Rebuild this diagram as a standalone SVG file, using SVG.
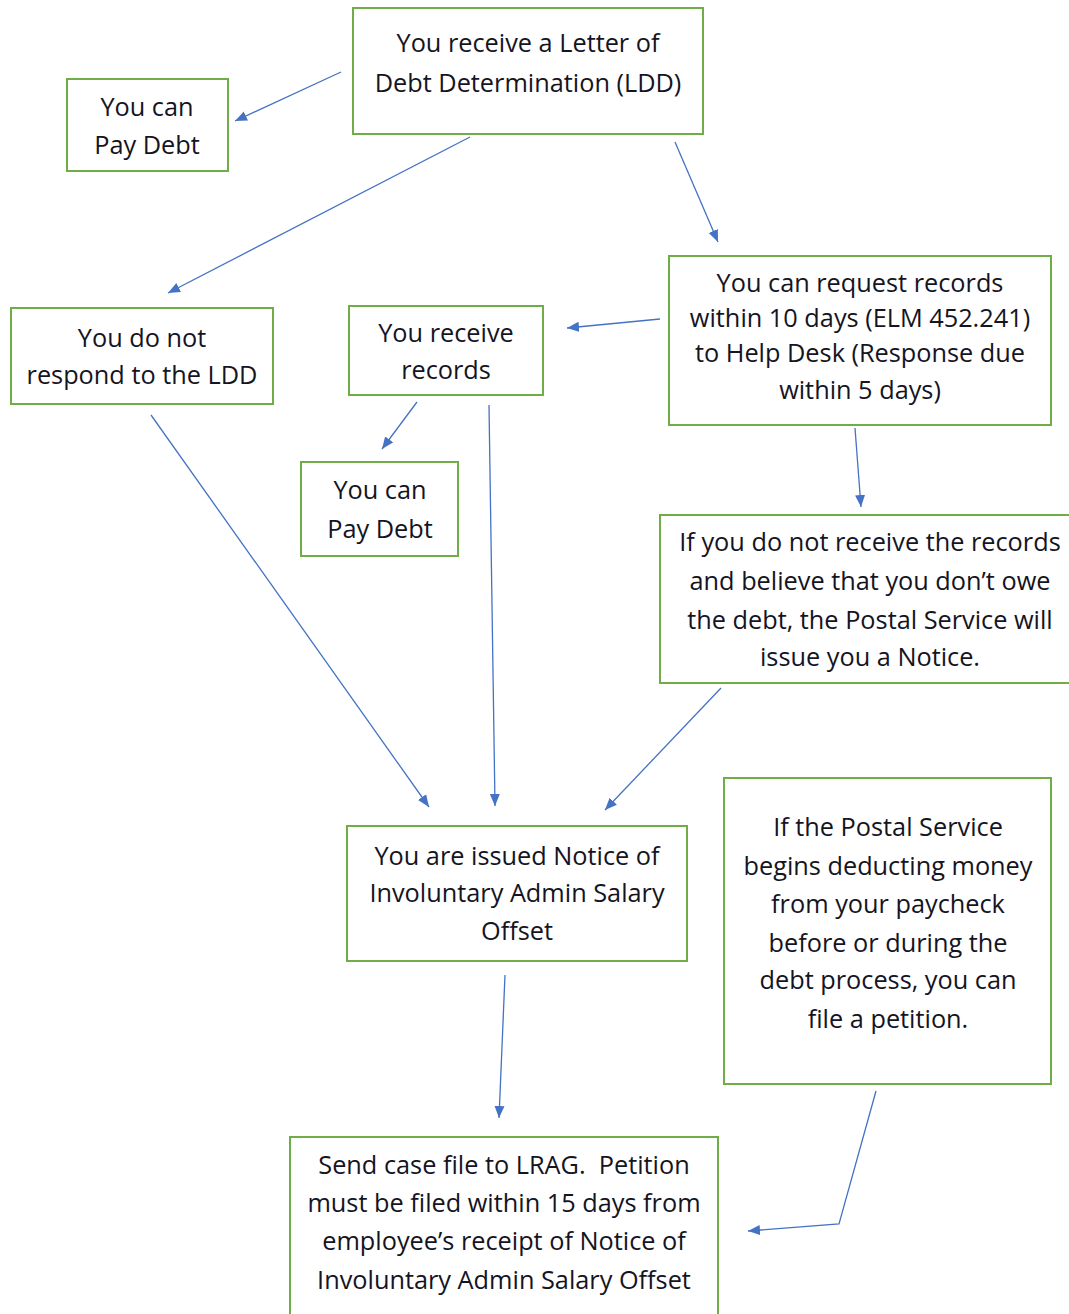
<svg xmlns="http://www.w3.org/2000/svg" width="1069" height="1314" viewBox="0 0 1069 1314">
<style>
  .box{fill:#fff;stroke:#70ad47;stroke-width:2}
  .t{font-family:"Open Sans","Liberation Sans",sans-serif;font-size:25.3px;fill:#141422;text-anchor:middle}
  .c{fill:none;stroke:#4472c4;stroke-width:1.3;marker-end:url(#ah)}
</style>
<defs>
  <marker id="ah" markerUnits="userSpaceOnUse" markerWidth="14" markerHeight="12" refX="12" refY="5.5" orient="auto">
    <path d="M0,0.5 L12,5.5 L0,10.5 z" fill="#4472c4"/>
  </marker>
</defs>
<rect width="1069" height="1314" fill="#fff"/>
<g id="n1"><rect class="box" x="353" y="8" width="350" height="126"/>
  <text class="t" x="528" y="52">You receive a Letter of</text>
  <text class="t" x="528" y="92">Debt Determination (LDD)</text></g>
<g id="n2"><rect class="box" x="67" y="79" width="161" height="92"/>
  <text class="t" x="147" y="116">You can</text>
  <text class="t" x="147" y="154">Pay Debt</text></g>
<g id="n3"><rect class="box" x="11" y="308" width="262" height="96"/>
  <text class="t" x="142" y="347">You do not</text>
  <text class="t" x="142" y="384">respond to the LDD</text></g>
<g id="n4"><rect class="box" x="349" y="306" width="194" height="89"/>
  <text class="t" x="446" y="342">You receive</text>
  <text class="t" x="446" y="379">records</text></g>
<g id="n5"><rect class="box" x="669" y="256" width="382" height="169"/>
  <text class="t" x="860" y="292">You can request records</text>
  <text class="t" x="860" y="327">within 10 days (ELM 452.241)</text>
  <text class="t" x="860" y="362">to Help Desk (Response due</text>
  <text class="t" x="860" y="399">within 5 days)</text></g>
<g id="n6"><rect class="box" x="301" y="462" width="157" height="94"/>
  <text class="t" x="380" y="499">You can</text>
  <text class="t" x="380" y="538">Pay Debt</text></g>
<g id="n7"><rect class="box" x="660" y="515" width="420" height="168"/>
  <text class="t" x="870" y="551">If you do not receive the records</text>
  <text class="t" x="870" y="590">and believe that you don’t owe</text>
  <text class="t" x="870" y="629">the debt, the Postal Service will</text>
  <text class="t" x="870" y="666">issue you a Notice.</text></g>
<g id="n8"><rect class="box" x="347" y="826" width="340" height="135"/>
  <text class="t" x="517" y="865">You are issued Notice of</text>
  <text class="t" x="517" y="902">Involuntary Admin Salary</text>
  <text class="t" x="517" y="940">Offset</text></g>
<g id="n9"><rect class="box" x="724" y="778" width="327" height="306"/>
  <text class="t" x="888" y="836">If the Postal Service</text>
  <text class="t" x="888" y="875">begins deducting money</text>
  <text class="t" x="888" y="913">from your paycheck</text>
  <text class="t" x="888" y="952">before or during the</text>
  <text class="t" x="888" y="989">debt process, you can</text>
  <text class="t" x="888" y="1028">file a petition.</text></g>
<g id="n10"><rect class="box" x="290" y="1137" width="428" height="190"/>
  <text class="t" x="504" y="1174" xml:space="preserve">Send case file to LRAG.  Petition</text>
  <text class="t" x="504" y="1212">must be filed within 15 days from</text>
  <text class="t" x="504" y="1250">employee’s receipt of Notice of</text>
  <text class="t" x="504" y="1289">Involuntary Admin Salary Offset</text></g>
<g id="connectors">
  <line class="c" x1="341" y1="72" x2="235" y2="121"/>
  <line class="c" x1="470" y1="137" x2="168" y2="293"/>
  <line class="c" x1="675" y1="142" x2="718" y2="242"/>
  <line class="c" x1="660" y1="319" x2="567" y2="328"/>
  <line class="c" x1="417" y1="402" x2="382" y2="449"/>
  <line class="c" x1="489" y1="405" x2="495" y2="806"/>
  <line class="c" x1="855" y1="428" x2="861" y2="507"/>
  <line class="c" x1="151" y1="415" x2="429" y2="807"/>
  <line class="c" x1="721" y1="688" x2="605" y2="810"/>
  <line class="c" x1="505" y1="975" x2="499" y2="1118"/>
  <polyline class="c" points="876,1091 839,1224 748,1231"/>
</g>
</svg>
